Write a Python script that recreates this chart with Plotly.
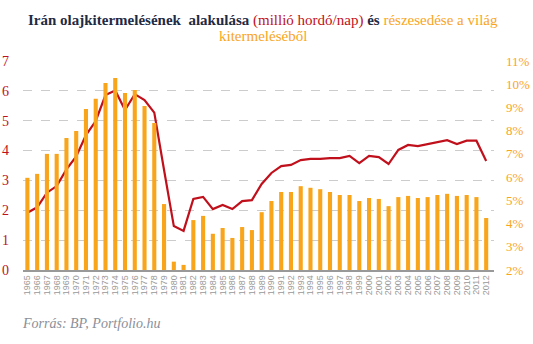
import plotly.graph_objects as go

years = list(range(1965, 2013))
production = [1.92, 2.10, 2.59, 2.81, 3.37, 3.80, 4.52, 4.99, 5.86, 6.01,
              5.36, 5.89, 5.69, 5.27, 3.35, 1.47, 1.31, 2.38, 2.45, 2.04,
              2.18, 2.04, 2.31, 2.34, 2.88, 3.25, 3.48, 3.52, 3.68, 3.72,
              3.72, 3.75, 3.75, 3.82, 3.58, 3.82, 3.78, 3.55, 4.02, 4.19,
              4.15, 4.22, 4.29, 4.35, 4.22, 4.33, 4.33, 3.65]
share_pct = [5.97, 6.14, 7.00, 7.00, 7.68, 7.99, 8.93, 9.37, 10.05, 10.27,
             9.62, 9.75, 9.06, 8.33, 4.84, 2.36, 2.22, 4.15, 4.33, 3.56,
             3.81, 3.38, 3.85, 3.72, 4.49, 4.97, 5.36, 5.36, 5.61, 5.54,
             5.48, 5.36, 5.23, 5.23, 4.97, 5.10, 5.06, 4.75, 5.14, 5.19,
             5.10, 5.14, 5.23, 5.28, 5.19, 5.23, 5.14, 4.24]
left_ticks = [0, 1, 2, 3, 4, 5, 6, 7]
right_ticks = [2, 3, 4, 5, 6, 7, 8, 9, 10, 11]
right_labels = [f"{t}%" for t in right_ticks]

RED = "#c0101c"
ORANGE = "#f9a51c"
NAVY = "#1f2a44"
SERIF = "Liberation Serif, serif"

fig = go.Figure()
fig.add_trace(go.Bar(x=years, y=[s - 2 for s in share_pct], base=2, yaxis="y2",
                     marker=dict(color=ORANGE, line=dict(width=0)), name="share"))
fig.add_trace(go.Scatter(x=years, y=production, mode="lines", yaxis="y",
                         line=dict(color=RED, width=2.2), name="prod"))

title1 = ("<b>Irán olajkitermelésének  alakulása</b> "
          f"<span style='color:{RED}'>(millió hordó/nap)</span> <b>és</b> "
          f"<span style='color:{ORANGE}'>részesedése a világ</span>")
title2 = f"<span style='color:{ORANGE}'>kitermeléséből</span>"

fig.update_layout(
    width=533, height=344,
    margin=dict(l=23, r=39, t=61, b=74),
    paper_bgcolor="white", plot_bgcolor="white",
    showlegend=False, bargap=0.58,
    font=dict(family=SERIF),
    xaxis=dict(tickmode="array", tickvals=years, ticktext=[str(y) for y in years],
               tickangle=-90, range=[1964.55, 2012.8], automargin=False,
               ticklabeloverflow="allow",
               tickfont=dict(family="Liberation Sans, Arial, sans-serif", size=9, color="#999999"),
               showgrid=False, showline=True, linecolor="#999999", linewidth=1.5,
               ticks="", ticklen=0),
    yaxis=dict(range=[0, 7], tickmode="array", tickvals=left_ticks,
               ticktext=[str(t) for t in left_ticks], showgrid=True,
               gridcolor="#cccccc", griddash="dash", gridwidth=1,
               zeroline=False, ticks="", ticklabelstandoff=13, automargin=False,
               tickfont=dict(family=SERIF, size=14, color=RED)),
    yaxis2=dict(range=[2, 11], tickmode="array", tickvals=right_ticks,
                ticktext=right_labels, overlaying="y", side="right",
                showgrid=False, zeroline=False, ticks="", automargin=False,
                ticklabelstandoff=11, ticklabeloverflow="allow",
                tickfont=dict(family=SERIF, size=13, color=ORANGE)),
)
fig.add_annotation(text=title1, xref="paper", yref="paper", x=0.51, y=1.0,
                   yshift=41, xanchor="center", yanchor="middle", showarrow=False,
                   font=dict(family=SERIF, size=15, color=NAVY))
fig.add_annotation(text=title2, xref="paper", yref="paper", x=0.51, y=1.0,
                   yshift=25, xanchor="center", yanchor="middle", showarrow=False,
                   font=dict(family=SERIF, size=15, color=NAVY))
fig.add_annotation(text="<i>Forrás: BP, Portfolio.hu</i>", xref="paper", yref="paper",
                   x=0, y=0, xshift=-3, yshift=-53, xanchor="left", yanchor="middle",
                   showarrow=False,
                   font=dict(family=SERIF, size=14, color="#8a8f99"))

fig.write_html("out.html")
